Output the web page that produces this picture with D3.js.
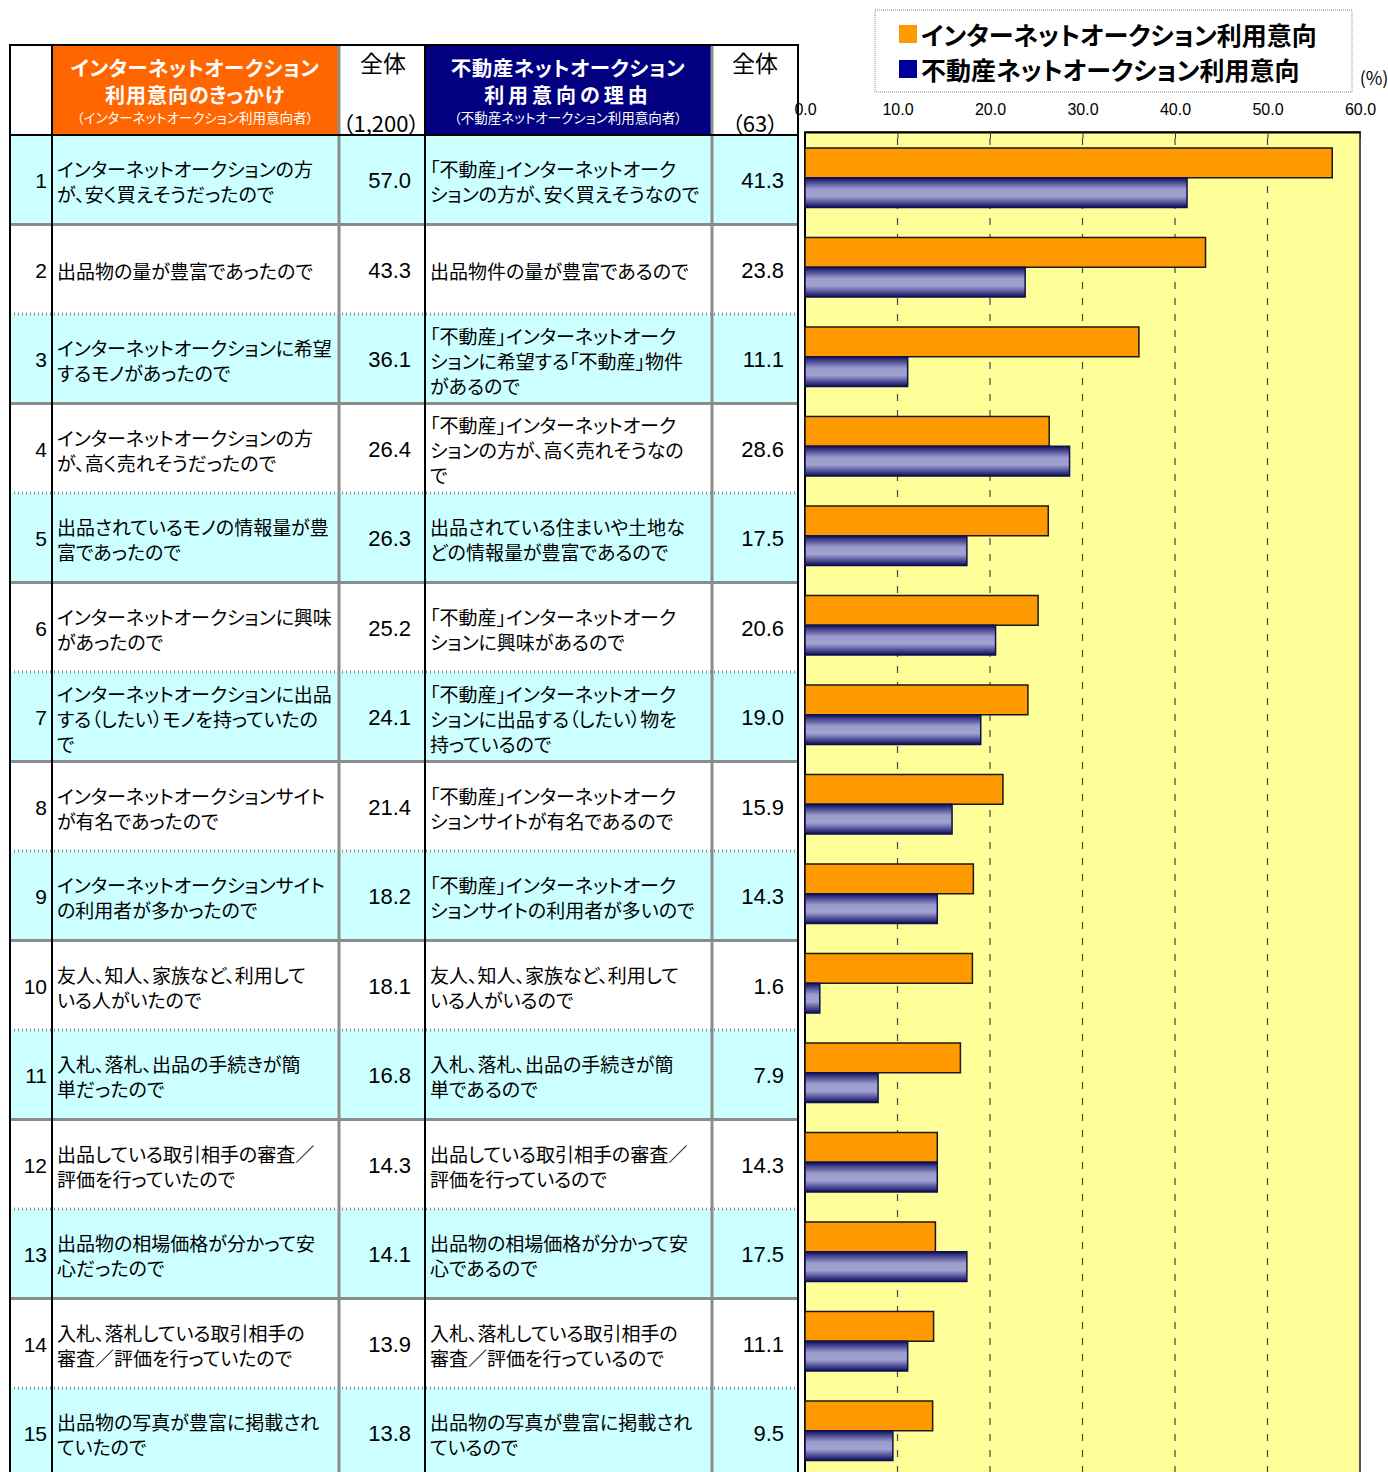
<!DOCTYPE html>
<html>
<head>
<meta charset="utf-8">
<script src="https://cdn.jsdelivr.net/npm/d3@7"></script>
<style>
  html, body { margin: 0; padding: 0; background: #fff; }
  svg { display: block; }
  text { font-family: "Noto Sans CJK JP", "Noto Sans", sans-serif; }
  .jp { font-feature-settings: "palt" 1; }
  .num { font-family: "Liberation Sans", Arial, sans-serif; }
</style>
</head>
<body>
<svg id="chart" width="1388" height="1472"></svg>
<script>
// 行番号
const rowNumbers = d3.range(1, 16);

// インターネットオークション利用意向のきっかけ（| で改行）
const netReasons = [
  'インターネットオークションの方|が、安く買えそうだったので',
  '出品物の量が豊富であったので',
  'インターネットオークションに希望|するモノがあったので',
  'インターネットオークションの方|が、高く売れそうだったので',
  '出品されているモノの情報量が豊|富であったので',
  'インターネットオークションに興味|があったので',
  'インターネットオークションに出品|する（したい）モノを持っていたの|で',
  'インターネットオークションサイト|が有名であったので',
  'インターネットオークションサイト|の利用者が多かったので',
  '友人、知人、家族など、利用して|いる人がいたので',
  '入札、落札、出品の手続きが簡|単だったので',
  '出品している取引相手の審査／|評価を行っていたので',
  '出品物の相場価格が分かって安|心だったので',
  '入札、落札している取引相手の|審査／評価を行っていたので',
  '出品物の写真が豊富に掲載され|ていたので'
];

// 不動産ネットオークション利用意向の理由
const estateReasons = [
  '「不動産」インターネットオーク|ションの方が、安く買えそうなので',
  '出品物件の量が豊富であるので',
  '「不動産」インターネットオーク|ションに希望する「不動産」物件|があるので',
  '「不動産」インターネットオーク|ションの方が、高く売れそうなの|で',
  '出品されている住まいや土地な|どの情報量が豊富であるので',
  '「不動産」インターネットオーク|ションに興味があるので',
  '「不動産」インターネットオーク|ションに出品する（したい）物を|持っているので',
  '「不動産」インターネットオーク|ションサイトが有名であるので',
  '「不動産」インターネットオーク|ションサイトの利用者が多いので',
  '友人、知人、家族など、利用して|いる人がいるので',
  '入札、落札、出品の手続きが簡|単であるので',
  '出品している取引相手の審査／|評価を行っているので',
  '出品物の相場価格が分かって安|心であるので',
  '入札、落札している取引相手の|審査／評価を行っているので',
  '出品物の写真が豊富に掲載され|ているので'
];

// 系列値（%）
const netValues = [57.0, 43.3, 36.1, 26.4, 26.3, 25.2, 24.1, 21.4, 18.2, 18.1, 16.8, 14.3, 14.1, 13.9, 13.8];
const estateValues = [41.3, 23.8, 11.1, 28.6, 17.5, 20.6, 19.0, 15.9, 14.3, 1.6, 7.9, 14.3, 17.5, 11.1, 9.5];

// 凡例・軸
const seriesNames = ['インターネットオークション利用意向', '不動産ネットオークション利用意向'];
const axisTicks = [0, 10, 20, 30, 40, 50, 60];

const svg = d3.select('#chart');

// 表の列位置
const colX = { left: 10, no: 52, net: 339, netVal: 425, est: 712, estVal: 798 };
const headTop = 45, headBottom = 135, rowH = 89.5;

// 表の行スケール
const rowY = d3.scaleBand().domain(d3.range(15)).range([headBottom, headBottom + 15 * rowH]);

// 行背景
const table = svg.append('g');
table.selectAll('rect.row').data(rowNumbers).join('rect')
  .attr('x', colX.left).attr('width', colX.estVal - colX.left)
  .attr('y', (d, i) => rowY(i)).attr('height', rowY.bandwidth())
  .attr('fill', (d, i) => i % 2 === 0 ? '#CCFFFF' : '#FFFFFF');

// 行の区切り線（水色行の下は実線、白行の下は点線）
table.selectAll('line.sep').data(rowNumbers).join('line')
  .attr('x1', colX.left).attr('x2', colX.estVal)
  .attr('y1', (d, i) => rowY(i) + rowY.bandwidth())
  .attr('y2', (d, i) => rowY(i) + rowY.bandwidth())
  .attr('stroke', '#8c8c8c')
  .attr('stroke-width', 3)
  .attr('stroke-dasharray', (d, i) => i % 2 === 0 ? null : '1,3');

// ヘッダ背景
table.append('rect').attr('x', colX.no).attr('y', headTop).attr('width', colX.net - colX.no).attr('height', headBottom - headTop).attr('fill', '#FF6600');
table.append('rect').attr('x', colX.netVal).attr('y', headTop).attr('width', colX.est - colX.netVal).attr('height', headBottom - headTop).attr('fill', '#000080');

// 縦線
[[colX.no, '#000', 2], [colX.net, '#8c8c8c', 3], [colX.netVal, '#000', 2], [colX.est, '#8c8c8c', 3], [colX.estVal, '#000', 2], [colX.left, '#000', 2]]
  .forEach(([x, c, w]) => {
    table.append('line').attr('x1', x).attr('x2', x).attr('y1', headTop).attr('y2', 1472)
      .attr('stroke', c).attr('stroke-width', w);
  });
// 上枠・ヘッダ下線
table.append('line').attr('x1', colX.left - 1).attr('x2', colX.estVal + 1).attr('y1', headTop).attr('y2', headTop).attr('stroke', '#000').attr('stroke-width', 2);
table.append('line').attr('x1', colX.left - 1).attr('x2', colX.estVal + 1).attr('y1', headBottom).attr('y2', headBottom).attr('stroke', '#000').attr('stroke-width', 2);

// ヘッダ文字
const hdr = (x, y, t, size, color, weight, extra) => {
  const el = table.append('text').attr('class', 'jp').attr('x', x).attr('y', y).attr('text-anchor', 'middle')
    .attr('dominant-baseline', 'central').attr('font-size', size).attr('fill', color)
    .attr('font-weight', weight).text(t);
  if (extra) el.attr('letter-spacing', extra);
  return el;
};
hdr(195, 67, 'インターネットオークション', 20.5, '#fff', 'bold', 0.5);
hdr(195, 94, '利用意向のきっかけ', 20, '#fff', 'bold', 1);
hdr(195, 117, '（インターネットオークション利用意向者）', 13.5, '#fff', 'normal');
hdr(568, 67, '不動産ネットオークション', 20.5, '#fff', 'bold', 0.5);
hdr(568, 94, '利用意向の理由', 20, '#fff', 'bold', 4);
hdr(568, 117, '（不動産ネットオークション利用意向者）', 13.5, '#fff', 'normal');
hdr(383, 62, '全体', 23, '#000', 'normal');
hdr(381, 122, '（1,200）', 22, '#000', 'normal');
hdr(755, 62, '全体', 23, '#000', 'normal');
hdr(755, 122, '（63）', 22, '#000', 'normal');

// 複数行テキスト
const multiLine = (sel, x, cy, lines) => {
  const off = (lines.length - 1) * 25 / 2;
  lines.forEach((l, k) => {
    sel.append('tspan').attr('x', x).attr('y', cy - off + k * 25 + 1).text(l);
  });
};

const rows = table.selectAll('g.row').data(rowNumbers).join('g').attr('class', 'row');
rows.each(function(d, i) {
  const g = d3.select(this);
  const cy = rowY(i) + rowY.bandwidth() / 2;
  g.append('text').attr('class', 'num').attr('x', 47).attr('y', cy + 1).attr('text-anchor', 'end')
    .attr('dominant-baseline', 'central').attr('font-size', 21).text(d);
  multiLine(g.append('text').attr('class', 'jp').attr('dominant-baseline', 'central').attr('font-size', 19), 57, cy, netReasons[i].split('|'));
  g.append('text').attr('class', 'num').attr('x', 411).attr('y', cy + 1).attr('text-anchor', 'end')
    .attr('dominant-baseline', 'central').attr('font-size', 22).text(d3.format('.1f')(netValues[i]));
  multiLine(g.append('text').attr('class', 'jp').attr('dominant-baseline', 'central').attr('font-size', 19), 430, cy, estateReasons[i].split('|'));
  g.append('text').attr('class', 'num').attr('x', 784).attr('y', cy + 1).attr('text-anchor', 'end')
    .attr('dominant-baseline', 'central').attr('font-size', 22).text(d3.format('.1f')(estateValues[i]));
});

// ===== 棒グラフ =====
const plotTop = 132, plotBottom = 1480;
const x = d3.scaleLinear().domain([0, 60]).range([805, 1360]);
const yBand = d3.scaleBand().domain(d3.range(15)).range([133, 133 + 15 * rowH]).paddingInner(0.335).paddingOuter(0.1675);
const ySub = d3.scaleBand().domain([0, 1]).range([0, yBand.bandwidth()]);

// 紺色バーのグラデーション
const grad = svg.append('defs').append('linearGradient').attr('id', 'navyGrad')
  .attr('x1', 0).attr('y1', 0).attr('x2', 0).attr('y2', 1);
[[0, '#0c0c55'], [0.12, '#3c3c88'], [0.38, '#9c9ccc'], [0.62, '#a2a2d2'], [0.88, '#3c3c88'], [1, '#0c0c55']]
  .forEach(([o, c]) => grad.append('stop').attr('offset', o).attr('stop-color', c));

const plot = svg.append('g');
plot.append('rect').attr('x', x(0)).attr('y', plotTop).attr('width', x(60) - x(0)).attr('height', plotBottom - plotTop)
  .attr('fill', '#FFFF99').attr('stroke', '#555').attr('stroke-width', 2);

// 破線グリッド
plot.selectAll('line.grid').data(axisTicks.slice(1, -1)).join('line')
  .attr('x1', d => x(d)).attr('x2', d => x(d)).attr('y1', plotTop + 6).attr('y2', plotBottom)
  .attr('stroke', '#444').attr('stroke-width', 1.2).attr('stroke-dasharray', '7,9');

// 上軸
const axis = plot.append('g').attr('transform', `translate(0,${plotTop})`)
  .call(d3.axisTop(x).tickValues(axisTicks).tickFormat(d3.format('.1f')).tickSizeInner(-6).tickSizeOuter(0).tickPadding(17));
axis.select('.domain').attr('stroke', '#000').attr('stroke-width', 2);
axis.selectAll('.tick line').attr('stroke', '#333');
axis.selectAll('.tick text').attr('class', 'num').attr('font-size', 16).attr('fill', '#000');

// 左軸線
plot.append('line').attr('x1', x(0)).attr('x2', x(0)).attr('y1', plotTop).attr('y2', plotBottom).attr('stroke', '#000').attr('stroke-width', 2);

// バー
const bars = plot.selectAll('g.bar').data(rowNumbers).join('g')
  .attr('transform', (d, i) => `translate(0,${yBand(i)})`);
bars.append('rect').attr('x', x(0)).attr('y', ySub(0)).attr('height', ySub.bandwidth())
  .attr('width', (d, i) => x(netValues[i]) - x(0))
  .attr('fill', '#FF9900').attr('stroke', '#1a1a1a').attr('stroke-width', 1.5);
bars.append('rect').attr('x', x(0)).attr('y', ySub(1)).attr('height', ySub.bandwidth())
  .attr('width', (d, i) => x(estateValues[i]) - x(0))
  .attr('fill', 'url(#navyGrad)').attr('stroke', '#10104a').attr('stroke-width', 1.5);

// 凡例
const legend = svg.append('g');
legend.append('rect').attr('x', 875).attr('y', 10).attr('width', 477).attr('height', 82)
  .attr('fill', '#fff').attr('stroke', '#888').attr('stroke-dasharray', '1,1');
const legendColors = ['#FF9900', '#000099'];
seriesNames.forEach((s, k) => {
  legend.append('rect').attr('x', 899).attr('y', 25 + k * 35).attr('width', 18).attr('height', 18).attr('fill', legendColors[k]);
  legend.append('text').attr('class', 'jp').attr('x', 921).attr('y', 34 + k * 35).attr('dominant-baseline', 'central')
    .attr('font-size', 25).attr('font-weight', 'bold').text(s);
});
svg.append('text').attr('x', 1374).attr('y', 77).attr('text-anchor', 'middle').attr('dominant-baseline', 'central')
  .attr('font-size', 18).text('(%)');
</script>
</body>
</html>
